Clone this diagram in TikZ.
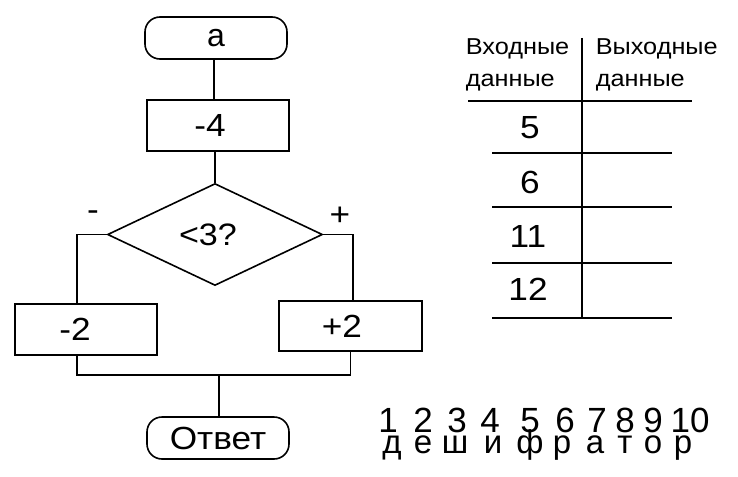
\documentclass[tikz,border=0pt]{standalone}
\usepackage{fontspec}
\setmainfont[FakeStretch=1.1]{Liberation Sans}
\newfontfamily\plainfont{Liberation Sans}
\usetikzlibrary{shapes.geometric}
\begin{document}
\begin{tikzpicture}[x=1pt,y=-1pt,line width=1.6pt,
  term/.style={draw,rounded corners=15pt,minimum width=142pt,minimum height=42pt,inner sep=0pt,font=\fontsize{32}{36}\selectfont},
  proc/.style={draw,minimum width=142pt,minimum height=51pt,inner sep=0pt,font=\fontsize{32}{36}\selectfont},
  dec/.style={draw,diamond,minimum width=215pt,minimum height=102pt,inner sep=0pt,font=\fontsize{31}{34}\selectfont},
  lbl/.style={inner sep=0pt,font=\fontsize{32}{36}\selectfont},
  hdr/.style={inner sep=0pt,anchor=base west,font=\fontsize{23}{27}\selectfont},
  num/.style={inner sep=0pt,anchor=base,font=\fontsize{32}{36}\selectfont},
  dig/.style={inner sep=0pt,anchor=base,font=\plainfont\fontsize{35}{38}\selectfont},
  let/.style={inner sep=0pt,anchor=base,font=\plainfont\fontsize{33}{36}\selectfont},
  rule/.style={line width=1.5pt}]
\useasboundingbox (0,0) rectangle (738,476);
% flowchart
\node[term,font=\plainfont\fontsize{32}{36}\selectfont] (a) at (216,38) {a};
\node[proc] (m4) at (218,125.5) {\hspace*{-16pt}-4};
\node[dec] (d) at (215,234.5) {\hspace*{-14pt}<3?};
\node[proc] (m2) at (86,329.5) {\hspace*{-22pt}-2};
\node[proc,minimum width=143pt,minimum height=50pt] (p2) at (350.5,326) {\hspace*{-17pt}\raisebox{-1pt}{+2}};
\node[term] (o) at (218,438) {Ответ};
\node[lbl] (lm) at (93,216) {-};
\node[lbl] (lp) at (340,216) {+};
\coordinate (j) at (219,375);
\draw (a.south -| 214,0) -- (m4.north -| 214,0);
\draw (m4.south -| 215,0) -- (d.north);
\draw (d.west) -| ([xshift=-9pt]m2.north);
\draw (d.east) -| ([xshift=2.5pt]p2.north);
\draw ([xshift=-9pt]m2.south) |- (j);
\draw (p2.south) |- (j);
\draw (j) -- (j |- o.north);
% table
\node[hdr] (h1) at (465,55) {Входные};
\node[hdr] (h2) at (465,87) {данные};
\node[hdr] (h3) at (595,55) {Выходные};
\node[hdr] (h4) at (595,87) {данные};
\coordinate (vt) at (582,38);
\coordinate (vb) at (582,318);
\draw[rule] (vt) -- (vb);
\coordinate (r0a) at (468,101); \coordinate (r0b) at (692,101);
\draw[rule] (r0a) -- (r0b);
\foreach \yy/\nm in {153/r1,207/r2,263/r3,318/r4}{
  \coordinate (\nm a) at (492,\yy); \coordinate (\nm b) at (672,\yy);
  \draw[rule] (\nm a) -- (\nm b);
}
\node[num] (n5) at (530,138) {5};
\node[num] (n6) at (530,193) {6};
\node[num] (n11) at (528,247) {11};
\node[num] (n12) at (528,300) {12};
% cipher
\foreach \xx/\t [count=\i] in {388/1,423/2,457/3,490/4,530/5,565/6,597/7,625/8,653/9,690/10}{
  \node[dig] (dg\i) at (\xx,432) {\t};
}
\foreach \xx/\t [count=\i] in {392/д,423/е,455/ш,493/и,530/ф,562/р,595/а,625/т,653/о,683/р}{
  \node[let] (lt\i) at (\xx,453) {\t};
}
\end{tikzpicture}
\end{document}
